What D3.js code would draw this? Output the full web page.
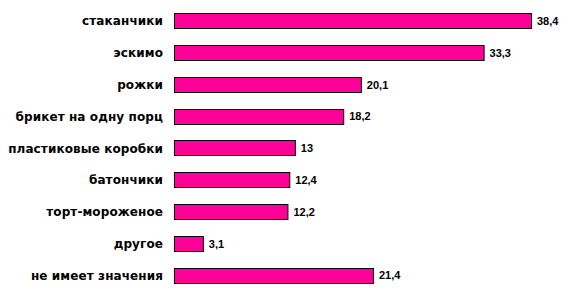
<!DOCTYPE html>
<html>
<head>
<meta charset="utf-8">
<script src="https://cdn.jsdelivr.net/npm/d3@7"></script>
<style>
  body { margin: 0; background: #fff; }
  text { font-weight: bold; fill: #000; }
  .cat { font-family: "DejaVu Sans", sans-serif; }
  .val { font-family: "Liberation Sans", Arial, sans-serif; }
</style>
</head>
<body>
<div id="chart"></div>
<script>
// Data
var categories = ["стаканчики", "эскимо", "рожки", "брикет на одну порц",
  "пластиковые коробки", "батончики", "торт-мороженое", "другое", "не имеет значения"]
var values = [38.4, 33.3, 20.1, 18.2, 13, 12.4, 12.2, 3.1, 21.4]
var valueLabels = ["38,4", "33,3", "20,1", "18,2", "13", "12,4", "12,2", "3,1", "21,4"]

var width = 569, height = 298
var margin = {top: 5, left: 174}

var svg = d3.select("#chart")
  .append("svg")
    .attr("width", width)
    .attr("height", height)

var x = d3.scaleLinear()
    .domain([0, 38.4])
    .range([margin.left, 531])

var y = d3.scaleBand()
    .domain(categories)
    .range([margin.top, margin.top + 31.8 * 9])
    .paddingInner(0.52)
    .paddingOuter(0.26)

var rows = svg.append("g")
  .selectAll("g")
  .data(categories)
  .join("g")

// Bars
rows.append("rect")
    .attr("x", x(0) + 0.5)
    .attr("y", function(d) { return Math.round(y(d)) + 0.5 })
    .attr("width", function(d, i) { return x(values[i]) - x(0) })
    .attr("height", Math.round(y.bandwidth()))
    .attr("fill", "#ff0099")
    .attr("stroke", "#000")
    .attr("stroke-width", 1)

// Category labels
rows.append("text")
    .classed("cat", true)
    .attr("x", margin.left - 11)
    .attr("y", function(d) { return y(d) + y.bandwidth() / 2 })
    .attr("dy", "0.38em")
    .attr("text-anchor", "end")
    .style("font-size", "12px")
    .style("letter-spacing", "0.1px")
    .text(function(d) { return d })

// Value labels
rows.append("text")
    .classed("val", true)
    .attr("x", function(d, i) { return x(values[i]) + 6 })
    .attr("y", function(d) { return y(d) + y.bandwidth() / 2 })
    .attr("dy", "0.38em")
    .style("font-size", "11px")
    .text(function(d, i) { return valueLabels[i] })
</script>
</body>
</html>
